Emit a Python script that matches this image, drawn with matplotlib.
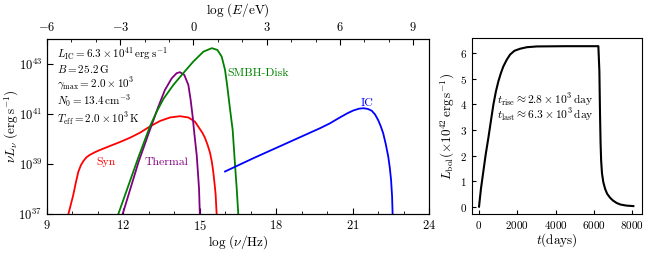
import numpy as np
import matplotlib
matplotlib.use('Agg')
import matplotlib.pyplot as plt
from matplotlib.ticker import MultipleLocator, FixedLocator

plt.rcParams['font.family'] = 'cmr10'
plt.rcParams['mathtext.fontset'] = 'cm'
plt.rcParams['axes.unicode_minus'] = False
plt.rcParams['axes.formatter.use_mathtext'] = True

# SED components, log(nu/Hz) vs log(nu L_nu / erg s^-1)
syn_lognu = [9.84, 9.94, 10.03, 10.13, 10.23, 10.33, 10.43, 10.55, 10.69, 10.88, 11.08,
             11.47, 11.87, 12.26, 12.65, 13.04, 13.44, 13.83, 14.22, 14.55, 14.81, 14.98,
             15.1, 15.2, 15.3, 15.4, 15.47, 15.53, 15.58, 15.62, 15.66]
syn_logL = [37.0, 37.4, 37.76, 38.25, 38.69, 38.95, 39.12, 39.27, 39.37, 39.47, 39.56,
            39.72, 39.88, 40.05, 40.25, 40.5, 40.72, 40.86, 40.91, 40.86, 40.69, 40.43,
            40.25, 40.05, 39.78, 39.45, 39.1, 38.67, 38.2, 37.8, 37.0]

th_lognu = [11.97, 12.3, 12.6, 12.93, 13.04, 13.37, 13.63, 13.9, 14.09, 14.22, 14.39,
            14.55, 14.64, 14.72, 14.77, 14.83, 14.88, 14.93, 14.97, 15.0]
th_logL = [37.0, 38.1, 39.1, 40.05, 40.36, 41.29, 41.96, 42.43, 42.63, 42.67, 42.56,
           42.16, 41.56, 40.89, 40.36, 39.8, 39.33, 38.6, 38.0, 37.0]

disk_lognu = [11.8, 12.2, 12.6, 13.04, 13.31, 13.57, 13.96, 14.35, 14.74, 15.14, 15.47,
              15.69, 15.86, 15.99, 16.08, 16.19, 16.29, 16.38, 16.45, 16.51]
disk_logL = [37.0, 38.15, 39.3, 40.5, 41.1, 41.6, 42.16, 42.63, 43.09, 43.49, 43.63,
             43.56, 43.29, 42.76, 42.09, 41.16, 40.36, 39.0, 38.0, 37.0]

ic_lognu = [15.99, 17.1, 18.41, 19.72, 20.1, 20.5, 20.8, 21.03, 21.25, 21.42, 21.6,
            21.75, 21.88, 22.0, 22.1, 22.2, 22.3, 22.4, 22.46, 22.51, 22.55, 22.57]
ic_logL = [38.7, 39.23, 39.83, 40.43, 40.62, 40.86, 41.03, 41.14, 41.21, 41.23, 41.2,
           41.13, 40.98, 40.76, 40.52, 40.23, 39.8, 39.29, 38.85, 38.36, 37.7, 37.0]

# light curve, t in days, L_bol in 1e42 erg/s
t_days = [0, 100, 226, 350, 488, 620, 750, 880, 1010, 1140, 1272, 1450, 1621, 1850,
          2144, 2500, 3016, 4500, 6240, 6293, 6327, 6355, 6385, 6430, 6500, 6600, 6700,
          6850, 7000, 7200, 7400, 7700, 8070]
L_bol = [0.0, 0.7, 1.38, 2.05, 2.69, 3.35, 3.99, 4.5, 4.9, 5.22, 5.49, 5.75, 5.95, 6.1,
         6.18, 6.24, 6.27, 6.28, 6.28, 5.3, 3.6, 2.5, 1.8, 1.3, 0.95, 0.68, 0.5,
         0.35, 0.24, 0.14, 0.08, 0.04, 0.02]

fig = plt.figure(figsize=(6.53, 2.56), dpi=100)
ax = fig.add_axes([0.072, 0.164, 0.585, 0.684])
ax2 = fig.add_axes([0.7224, 0.164, 0.2608, 0.6875])

lw = 1.3
ax.plot(syn_lognu, 10**np.array(syn_logL), color='red', lw=lw)
ax.plot(th_lognu, 10**np.array(th_logL), color='purple', lw=lw)
ax.plot(disk_lognu, 10**np.array(disk_logL), color='green', lw=lw)
ax.plot(ic_lognu, 10**np.array(ic_logL), color='blue', lw=lw)

ax.set_yscale('log')
ax.set_xlim(9, 24)
ax.set_ylim(1e37, 1e44)
ax.xaxis.set_major_locator(MultipleLocator(3))
ax.xaxis.set_minor_locator(MultipleLocator(1))
ax.yaxis.set_major_locator(FixedLocator([1e37, 1e39, 1e41, 1e43]))
ax.yaxis.set_minor_locator(FixedLocator([]))
ax.tick_params(which='both', direction='in', labelsize=9)
ax.tick_params(which='major', length=4)
ax.tick_params(which='minor', length=2.5)
ax.set_xlabel(r'$\log\,(\nu/{\rm Hz})$', fontsize=9.5, labelpad=0)
ax.set_ylabel(r'$\nu L_\nu\ ({\rm erg\,s^{-1}})$', fontsize=9.5)
ax.yaxis.set_label_coords(-0.068, 0.5)

top = ax.twiny()
top.set_xlim(-6, 9.65)
top.xaxis.set_major_locator(MultipleLocator(3))
top.xaxis.set_minor_locator(MultipleLocator(1))
top.tick_params(which='both', direction='in', labelsize=9)
top.tick_params(which='major', length=4)
top.tick_params(which='minor', length=2.5)
top.set_xlabel(r'$\log\,(E/{\rm eV})$', fontsize=9.5, labelpad=5)

params = [r'$L_{\rm IC}=6.3\times10^{41}\,{\rm erg\,s^{-1}}$',
          r'$B=25.2\,{\rm G}$',
          r'$\gamma_{\rm max}=2.0\times10^{3}$',
          r'$N_0=13.4\,{\rm cm^{-3}}$',
          r'$T_{\rm eff}=2.0\times10^{3}\,{\rm K}$']
ax.text(0.026, 0.962, '\n'.join(params), transform=ax.transAxes, fontsize=8,
        ha='left', va='top', linespacing=1.06)

ax.text(11.32, 10**39.08, 'Syn', color='red', fontsize=8.5, ha='center', va='center')
ax.text(13.71, 10**39.08, 'Thermal', color='purple', fontsize=8.5, ha='center', va='center')
ax.text(17.28, 10**42.64, 'SMBH-Disk', color='green', fontsize=8.5, ha='center', va='center')
ax.text(21.56, 10**41.44, 'IC', color='blue', fontsize=8.5, ha='center', va='center')

ax2.plot(t_days, L_bol, color='black', lw=1.5)
ax2.set_xlim(-382, 8523)
ax2.set_ylim(-0.29, 6.6)
ax2.xaxis.set_major_locator(MultipleLocator(2000))
ax2.yaxis.set_major_locator(MultipleLocator(1))
ax2.tick_params(direction='in', labelsize=8, length=3)
ax2.set_xlabel(r'$t({\rm days})$', fontsize=9.5, labelpad=0)
ax2.set_ylabel(r'$L_{\rm bol}(\times10^{42}\,{\rm erg\,s^{-1}})$', fontsize=9.5)
ax2.yaxis.set_label_coords(-0.085, 0.5)
ax2.text(941, 4.5, r'$t_{\rm rise}\approx2.8\times10^{3}\,{\rm day}$' + '\n'
         + r'$t_{\rm last}\approx6.3\times10^{3}\,{\rm day}$', fontsize=8.3,
         ha='left', va='top', linespacing=0.85)

fig.savefig('out.png', dpi=100)
